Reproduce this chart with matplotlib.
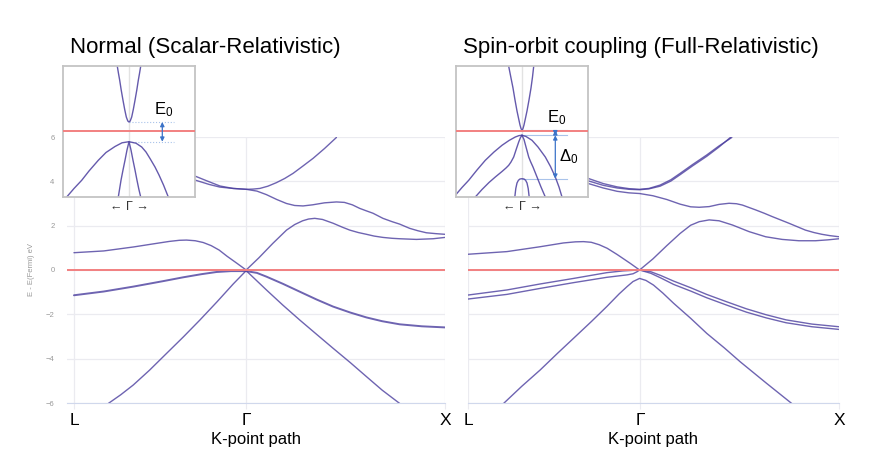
import matplotlib
matplotlib.use("Agg")
import matplotlib.pyplot as plt

plt.rcParams['font.family'] = ['Liberation Sans', 'DejaVu Sans']
plt.rcParams['mathtext.default'] = 'regular'

# k-path positions (L - Γ - X)
k_ticks = [0.0, 0.866, 1.866]
k_labels = ['L', 'Γ', 'X']
y_ticks = [-6, -4, -2, 0, 2, 4, 6]

# ---- scalar-relativistic bands (k, E in eV) ----
sr_cb_k = [0.55, 0.608, 0.68, 0.734, 0.80, 0.866, 0.90, 0.935, 0.975, 1.018, 1.06, 1.102,
           1.15, 1.203, 1.26, 1.32]
sr_cb_e = [4.5, 4.24, 3.98, 3.79, 3.68, 3.64, 3.65, 3.68, 3.78, 3.94, 4.13, 4.36,
           4.68, 5.04, 5.48, 5.98]
sr_up_k = [0.55, 0.608, 0.68, 0.734, 0.80, 0.866, 0.92, 0.968, 1.02, 1.069, 1.11, 1.152,
           1.20, 1.26, 1.32, 1.36, 1.40, 1.437, 1.47, 1.504, 1.554, 1.60, 1.638, 1.688,
           1.73, 1.772, 1.82, 1.866]
sr_up_e = [4.25, 4.06, 3.86, 3.74, 3.68, 3.64, 3.56, 3.40, 3.18, 3.0, 2.91, 2.89,
           2.94, 3.03, 3.07, 3.05, 2.94, 2.78, 2.67, 2.56, 2.33, 2.18, 2.07, 1.88,
           1.77, 1.68, 1.64, 1.61]
sr_b1_k = [0.0, 0.15, 0.30, 0.40, 0.48, 0.53, 0.566, 0.61, 0.65, 0.69, 0.73, 0.77, 0.82, 0.866,
           0.93, 1.0, 1.069, 1.11, 1.15, 1.18, 1.211, 1.25, 1.303, 1.35, 1.387, 1.43, 1.471,
           1.51, 1.554, 1.60, 1.638, 1.722, 1.806, 1.866]
sr_b1_e = [0.78, 0.86, 1.04, 1.18, 1.29, 1.34, 1.35, 1.32, 1.24, 1.10, 0.90, 0.62, 0.30, 0.0,
           0.55, 1.2, 1.8, 2.05, 2.22, 2.30, 2.33, 2.28, 2.11, 1.93, 1.80, 1.69, 1.61,
           1.53, 1.47, 1.43, 1.41, 1.38, 1.41, 1.47]
sr_hh_k = [0.0, 0.15, 0.298, 0.45, 0.549, 0.64, 0.717, 0.79, 0.866, 0.92, 0.968, 1.05, 1.136,
           1.22, 1.303, 1.39, 1.471, 1.55, 1.638, 1.75, 1.866]
sr_hh_e = [-1.14, -0.97, -0.75, -0.50, -0.33, -0.19, -0.09, -0.05, -0.05, -0.13, -0.30, -0.62, -0.98,
           -1.33, -1.65, -1.92, -2.14, -2.31, -2.45, -2.54, -2.59]
sr_lh_k = [0.173, 0.235, 0.298, 0.38, 0.466, 0.55, 0.633, 0.72, 0.801, 0.866,
           0.968, 1.05, 1.136, 1.22, 1.303, 1.39, 1.471, 1.55, 1.638]
sr_lh_e = [-6.02, -5.63, -5.19, -4.52, -3.76, -3.02, -2.26, -1.43, -0.63, -0.03,
           -0.90, -1.58, -2.26, -2.90, -3.53, -4.18, -4.81, -5.42, -6.02]

# ---- spin-orbit (full-relativistic) bands ----
so_cb1_k = [0.602, 0.68, 0.75, 0.81, 0.863, 0.91, 0.966, 1.02, 1.067, 1.13, 1.201, 1.26, 1.327]
so_cb1_e = [4.14, 3.90, 3.75, 3.67, 3.64, 3.68, 3.83, 4.07, 4.36, 4.76, 5.19, 5.58, 5.98]
so_cb2_k = [0.602, 0.68, 0.75, 0.81, 0.863, 0.91, 0.966, 1.02, 1.067, 1.13, 1.201, 1.26, 1.32]
so_cb2_e = [4.03, 3.82, 3.70, 3.64, 3.62, 3.66, 3.78, 4.01, 4.30, 4.70, 5.13, 5.53, 5.98]
so_up_k = [0.602, 0.68, 0.75, 0.81, 0.863, 0.93, 1.0, 1.067, 1.12, 1.163, 1.213, 1.263, 1.313,
           1.35, 1.38, 1.447, 1.49, 1.53, 1.614, 1.697, 1.74, 1.78, 1.82, 1.866]
so_up_e = [3.91, 3.70, 3.55, 3.48, 3.45, 3.35, 3.18, 2.97, 2.85, 2.83, 2.86, 2.96, 3.01,
           2.99, 2.93, 2.71, 2.56, 2.41, 2.11, 1.80, 1.69, 1.61, 1.55, 1.50]
so_b1_k = [0.0, 0.196, 0.363, 0.48, 0.54, 0.581, 0.62, 0.66, 0.70, 0.75, 0.816, 0.863,
           0.93, 1.0, 1.067, 1.12, 1.163, 1.213, 1.263, 1.33, 1.414, 1.497, 1.58, 1.664,
           1.748, 1.81, 1.866]
so_b1_e = [0.71, 0.83, 1.05, 1.22, 1.27, 1.28, 1.25, 1.14, 0.98, 0.70, 0.30, 0.0,
           0.50, 1.10, 1.65, 2.02, 2.18, 2.26, 2.22, 2.03, 1.73, 1.50, 1.38, 1.32,
           1.32, 1.36, 1.41]
so_hh1_k = [0.0, 0.196, 0.363, 0.531, 0.698, 0.78, 0.863, 0.92, 0.97, 1.034, 1.12, 1.20, 1.30,
            1.40, 1.50, 1.60, 1.73, 1.866]
so_hh1_e = [-1.13, -0.90, -0.63, -0.38, -0.12, -0.04, 0.0, -0.08, -0.25, -0.50, -0.80, -1.10, -1.43,
            -1.75, -2.02, -2.25, -2.44, -2.56]
so_hh2_k = [0.0, 0.196, 0.363, 0.531, 0.698, 0.80, 0.83, 0.85, 0.863, 0.92, 0.97, 1.034, 1.12,
            1.20, 1.30, 1.40, 1.50, 1.60, 1.73, 1.866]
so_hh2_e = [-1.31, -1.10, -0.83, -0.57, -0.33, -0.22, -0.17, -0.08, 0.0, -0.15, -0.36, -0.65, -0.95,
            -1.25, -1.58, -1.90, -2.16, -2.38, -2.56, -2.68]
so_sp_k = [0.179, 0.27, 0.363, 0.45, 0.531, 0.62, 0.698, 0.76, 0.80, 0.83, 0.863, 0.895, 0.933,
           0.98, 1.034, 1.12, 1.201, 1.29, 1.369, 1.50, 1.628]
so_sp_e = [-6.02, -5.25, -4.51, -3.76, -3.08, -2.33, -1.65, -1.08, -0.75, -0.52, -0.38, -0.47, -0.68,
           -1.04, -1.50, -2.18, -2.86, -3.52, -4.14, -5.10, -6.02]

# ---- inset zoom around Γ (arbitrary units, Fermi level at 0) ----
sr_in_cb_x = [-1.17, -1.05, -0.93, -0.78, -0.6, -0.43, -0.27, -0.12, 0.0, 0.12, 0.27, 0.43,
              0.6, 0.78, 0.93, 1.05, 1.17]
sr_in_cb_y = [6.47, 5.75, 5.07, 4.1, 3.07, 2.15, 1.4, 1.0, 0.9, 1.0, 1.4, 2.15,
              3.07, 4.1, 5.07, 5.75, 6.47]
sr_in_hh_x = [-6.23, -5.5, -4.73, -4.0, -3.07, -2.3, -1.4, -0.7, 0.0, 0.7, 1.27, 1.7,
              2.1, 2.6, 3.0, 3.45, 3.93]
sr_in_hh_y = [-6.6, -5.75, -4.93, -4.0, -2.93, -2.15, -1.55, -1.18, -1.07, -1.22, -1.6, -2.1,
              -2.75, -3.6, -4.4, -5.4, -6.6]
sr_in_lh_x = [-1.07, -0.8, -0.6, -0.4, -0.2, 0.0, 0.2, 0.4, 0.6, 0.8, 0.98, 1.17]
sr_in_lh_y = [-6.6, -4.93, -3.9, -2.93, -1.9, -1.07, -1.9, -2.93, -3.9, -4.93, -5.8, -6.6]
sr_levels = [0.9, -1.07]

so_in_cb_x = [-1.33, -1.1, -0.9, -0.7, -0.5, -0.33, -0.2, -0.09, 0.0, 0.09, 0.2, 0.33, 0.5, 0.7,
              0.9, 1.05, 1.17]
so_in_cb_y = [6.47, 5.3, 4.3, 3.1, 2.0, 1.2, 0.6, 0.22, 0.07, 0.22, 0.6, 1.2, 2.0, 3.1,
              4.3, 5.4, 6.47]
so_in_hh_x = [-6.67, -6.0, -5.33, -4.5, -3.67, -2.8, -2.0, -1.3, -0.67, -0.3, 0.0, 0.4, 1.0,
              1.6, 2.33, 2.85, 3.33, 3.7, 4.0]
so_in_hh_y = [-6.43, -5.65, -4.93, -3.9, -2.93, -2.1, -1.43, -0.95, -0.6, -0.46, -0.43, -0.55, -0.93,
              -1.6, -2.6, -3.55, -4.6, -5.6, -6.6]
so_in_lhl_x = [-4.67, -4.0, -3.3, -2.67, -2.0, -1.6, -1.33, -1.1, -0.83, -0.6, -0.33, -0.15, 0.0]
so_in_lhl_y = [-6.6, -5.85, -5.15, -4.6, -4.05, -3.7, -3.43, -3.1, -2.6, -1.9, -1.1, -0.65, -0.43]
so_in_lhr_x = [0.0, 0.2, 0.4, 0.55, 0.67, 0.85, 1.1, 1.5, 1.9, 2.33]
so_in_lhr_y = [-0.43, -0.85, -1.6, -2.15, -2.6, -3.05, -3.6, -4.6, -5.6, -6.6]
so_in_sp_x = [-0.72, -0.62, -0.5, -0.36, -0.2, 0.0, 0.2, 0.36, 0.5, 0.62, 0.72]
so_in_sp_y = [-6.6, -5.75, -5.2, -4.93, -4.8, -4.77, -4.8, -4.93, -5.2, -5.75, -6.6]
so_levels = [0.07, -0.43, -4.77]

BAND = '#4a3d9e'
FERMI = '#f28080'
GRID = '#ebebf0'
MARK = '#3b73c8'

fig = plt.figure(figsize=(8.85, 4.72), dpi=100)


def main_panel(rect, bands, xmin, title, title_x, ylab):
    ax = fig.add_axes(rect)
    for k, e, lw in bands:
        ax.plot(k, e, color=BAND, lw=lw, alpha=0.8, solid_capstyle='round',
                solid_joinstyle='round')
    ax.axhline(0, color=FERMI, lw=1.4, zorder=3)
    ax.set_xlim(xmin, k_ticks[-1])
    ax.set_ylim(-6, 6)
    ax.set_xticks(k_ticks)
    ax.set_xticklabels(k_labels, fontsize=12.5)
    ax.set_yticks(y_ticks)
    ax.tick_params(axis='x', length=4, color=GRID, pad=3)
    ax.tick_params(axis='y', length=0, pad=9, labelsize=5.5, labelcolor='#999999')
    if not ylab:
        ax.set_yticklabels([])
    else:
        ax.set_ylabel('E - E(Fermi) eV', fontsize=5.5, color='#999999', labelpad=8)
    ax.set_xlabel('K-point path', fontsize=12, labelpad=3)
    for s in ['top', 'right', 'left']:
        ax.spines[s].set_visible(False)
    ax.spines['bottom'].set_color('#d0d8ec')
    ax.set_axisbelow(True)
    ax.grid(True, color=GRID, lw=0.9)
    fig.text(title_x, 1 - 47 / 472, title, fontsize=16, ha='left', va='center')
    return ax


def inset_panel(rect, bands, levels, arrows, labels):
    ax = fig.add_axes(rect, zorder=5)
    ax.set_facecolor('white')
    ax.axvline(0, color='#e2e2e2', lw=1.0)
    for lv in levels:
        ax.plot([0, 4.5], [lv, lv], color='#a9c3ea', lw=0.8,
                ls=':' if len(levels) == 2 else '-')
    ax.axhline(0, color=FERMI, lw=1.4, zorder=3)
    for x, y in bands:
        ax.plot(x, y, color=BAND, lw=1.0, alpha=0.85, solid_joinstyle='round')
    for y0, y1 in arrows:
        ax.annotate('', xy=(3.33, y1), xytext=(3.33, y0),
                    arrowprops=dict(arrowstyle='<|-|>', color=MARK, lw=0.9,
                                    shrinkA=0, shrinkB=0, mutation_scale=6))
    for tx, ty, s in labels:
        ax.text(tx, ty, s, fontsize=12, ha='center', va='center')
    ax.set_xlim(-6.6, 6.6)
    ax.set_ylim(-6.6, 6.5)
    ax.set_xticks([])
    ax.set_yticks([])
    for s in ax.spines.values():
        s.set_color('#c4c4c4')
        s.set_linewidth(1.3)
    ax.set_xlabel('← Γ →', fontsize=9, labelpad=3, color='#333333')
    return ax


sr_bands = [(sr_cb_k, sr_cb_e, 1.0), (sr_up_k, sr_up_e, 1.0), (sr_b1_k, sr_b1_e, 1.0),
            (sr_hh_k, sr_hh_e, 1.4), (sr_lh_k, sr_lh_e, 1.0)]
so_bands = [(so_cb1_k, so_cb1_e, 1.0), (so_cb2_k, so_cb2_e, 1.0), (so_up_k, so_up_e, 1.0),
            (so_b1_k, so_b1_e, 1.0), (so_hh1_k, so_hh1_e, 1.0), (so_hh2_k, so_hh2_e, 1.0),
            (so_sp_k, so_sp_e, 1.0)]

main_panel([67 / 885, 1 - 403 / 472, 378 / 885, 266 / 472], sr_bands, -0.035,
           'Normal (Scalar-Relativistic)', 70 / 885, True)
main_panel([468 / 885, 1 - 403 / 472, 371 / 885, 266 / 472], so_bands, 0.0,
           'Spin-orbit coupling (Full-Relativistic)', 463 / 885, False)

inset_panel([63 / 885, 1 - 197 / 472, 132 / 885, 131 / 472],
            [(sr_in_cb_x, sr_in_cb_y), (sr_in_hh_x, sr_in_hh_y), (sr_in_lh_x, sr_in_lh_y)],
            sr_levels, [(sr_levels[0], sr_levels[1])],
            [(3.5, 2.1, 'E$_0$')])
inset_panel([456 / 885, 1 - 197 / 472, 132 / 885, 131 / 472],
            [(so_in_cb_x, so_in_cb_y), (so_in_hh_x, so_in_hh_y), (so_in_lhl_x, so_in_lhl_y),
             (so_in_lhr_x, so_in_lhr_y), (so_in_sp_x, so_in_sp_y)],
            so_levels, [(so_levels[0], so_levels[1]), (so_levels[1], so_levels[2])],
            [(3.5, 1.3, 'E$_0$'), (4.7, -2.57, 'Δ$_0$')])

fig.savefig('out.png', dpi=100)
